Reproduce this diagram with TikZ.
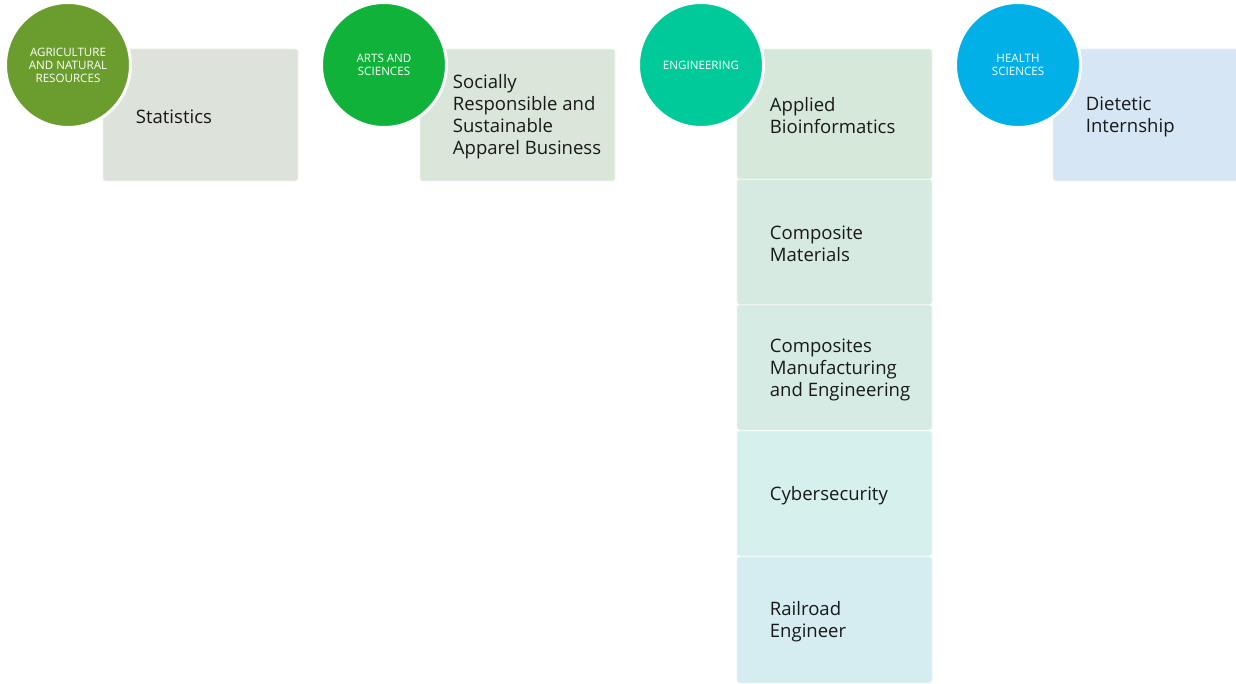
\documentclass[tikz,border=0pt]{standalone}
\usepackage{fontspec}
\setmainfont{Open Sans}
\usetikzlibrary{positioning}

\definecolor{agri}{RGB}{106,157,46}
\definecolor{arts}{RGB}{16,178,58}
\definecolor{engi}{RGB}{0,201,154}
\definecolor{heal}{RGB}{0,176,230}
\definecolor{boxAgri}{RGB}{221,226,218}
\definecolor{boxArts}{RGB}{217,230,217}
\definecolor{boxEngA}{RGB}{213,232,218}
\definecolor{boxEngB}{RGB}{214,234,225}
\definecolor{boxEngC}{RGB}{214,235,227}
\definecolor{boxEngD}{RGB}{214,240,238}
\definecolor{boxEngE}{RGB}{213,236,241}
\definecolor{boxHeal}{RGB}{214,230,245}

\begin{document}
\begin{tikzpicture}[x=0.75pt,y=0.75pt,yscale=-1,xscale=1,
  field/.style={circle,draw=white,line width=2.25pt,minimum size=93.75pt,inner sep=0pt,text=white,align=center,font=\fontsize{8.7}{9.8}\selectfont},
  prog/.style={rectangle,rounded corners=2pt,fill=#1,draw=#1!40!white,line width=0.5pt,minimum width=146.25pt,inner sep=0pt},
  proglabel/.style={anchor=west,align=left,inner sep=0pt,text=black!90,font=\fontsize{13.9}{16.5}\selectfont}]
\useasboundingbox (0,0) rectangle (1236,684);
\clip (0,0) rectangle (1236,684);

% programme boxes
\node[prog=boxAgri,minimum height=99pt] (stat) at (200.5,115) {};
\node[prog=boxArts,minimum height=99pt] (appar) at (517.5,115) {};
\node[prog=boxEngA,minimum height=97.5pt] (bioinf) at (834.5,114) {};
\node[prog=boxEngB,minimum height=93.75pt] (compmat) at (834.5,242) {};
\node[prog=boxEngC,minimum height=93.75pt] (compman) at (834.5,367.5) {};
\node[prog=boxEngD,minimum height=93.75pt] (cyber) at (834.5,493.5) {};
\node[prog=boxEngE,minimum height=94.5pt] (rail) at (834.5,620) {};
\node[prog=boxHeal,minimum height=99pt] (diet) at (1150.5,115) {};

% programme names
\node[proglabel] (statT) at ([xshift=24.75pt,yshift=1.5pt]stat.west) {Statistics};
\node[proglabel] (apparT) at ([xshift=24.75pt,yshift=1.5pt]appar.west) {Socially\\Responsible and\\Sustainable\\Apparel Business};
\node[proglabel] (bioinfT) at ([xshift=24.75pt,yshift=1.5pt]bioinf.west) {Applied\\Bioinformatics};
\node[proglabel] (compmatT) at ([xshift=24.75pt,yshift=1.5pt]compmat.west) {Composite\\Materials};
\node[proglabel] (compmanT) at ([xshift=24.75pt,yshift=1.5pt]compman.west) {Composites\\Manufacturing\\and Engineering};
\node[proglabel] (cyberT) at ([xshift=24.75pt,yshift=1.5pt]cyber.west) {Cybersecurity};
\node[proglabel] (railT) at ([xshift=24.75pt,yshift=1.5pt]rail.west) {Railroad\\Engineer};
\node[proglabel] (dietT) at ([xshift=24.75pt,yshift=1.5pt]diet.west) {Dietetic\\Internship};

% colleges
\node[field,fill=agri] (agr) at (68,65) {AGRICULTURE\\AND NATURAL\\RESOURCES};
\node[field,fill=arts] (art) at (384,65) {ARTS AND\\SCIENCES};
\node[field,fill=engi] (eng) at (701,65) {ENGINEERING};
\node[field,fill=heal] (hlt) at (1018,65) {HEALTH\\SCIENCES};
\end{tikzpicture}
\end{document}
